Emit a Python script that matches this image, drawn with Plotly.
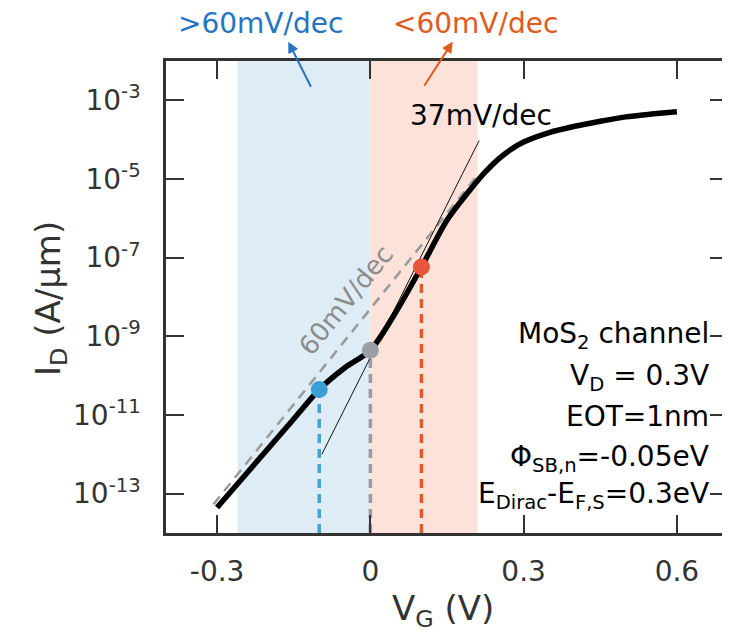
import plotly.graph_objects as go

# ---- data ----
vg = [-0.3, -0.25, -0.2, -0.15, -0.1, -0.05, 0.0, 0.05, 0.1, 0.15, 0.2, 0.225, 0.25, 0.275, 0.3, 0.35, 0.4, 0.45, 0.5, 0.55, 0.6]
log_id = [-13.35, -12.6, -11.85, -11.1, -10.35, -9.8, -9.355, -8.38, -7.24, -6.05, -5.2, -4.82, -4.5, -4.25, -4.06, -3.82, -3.66, -3.53, -3.42, -3.35, -3.29]
id_vals = [10 ** v for v in log_id]

ref60_x = [-0.307, 0.207]
ref60_y = [10 ** -13.27, 10 ** -4.95]

tan37_x = [-0.095, 0.213]
tan37_y = [10 ** -12.0, 10 ** -4.02]

dot_x = [-0.1, 0.0, 0.1]
dot_y = [10 ** -10.35, 10 ** -9.355, 10 ** -7.24]
dot_colors = ["#3a9fd2", "#9a9fa4", "#e8553a"]
vline_colors = ["#3fa3d4", "#9b9b9b", "#e35a22"]

blue_band = [-0.26, 0.0]
red_band = [0.0, 0.21]

x_ticks = [-0.3, 0, 0.3, 0.6]
x_ticktext = ["-0.3", "0", "0.3", "0.6"]
y_ticks = [1e-13, 1e-11, 1e-9, 1e-7, 1e-5, 1e-3]
y_ticktext = ["10<sup>-13</sup>", "10<sup>-11</sup>", "10<sup>-9</sup>", "10<sup>-7</sup>", "10<sup>-5</sup>", "10<sup>-3</sup>"]
y_floor = 1e-14

FONT = "DejaVu Sans, Verdana, sans-serif"
OFF = 8  # default page body margin
W, H = 730 - OFF, 638 - OFF
L, R, T, B = 166 - OFF, 2, 61 - OFF, 105
PW, PH = W - L - R, H - T - B


def px(xp):
    return (xp - OFF - L) / PW


def py(yp):
    return (H - B - (yp - OFF)) / PH


fig = go.Figure()

# shaded bands
fig.add_vrect(x0=blue_band[0], x1=blue_band[1], fillcolor="#deedf5", line_width=0, layer="below")
fig.add_vrect(x0=red_band[0], x1=red_band[1], fillcolor="#fde2da", line_width=0, layer="below")

# vertical dashed drop lines
for xv, yv, c in zip(dot_x, dot_y, vline_colors):
    fig.add_trace(go.Scatter(x=[xv, xv], y=[y_floor, yv], mode="lines",
                             line=dict(color=c, width=3.5, dash="9px,6px"),
                             showlegend=False, hoverinfo="skip"))

# 60 mV/dec reference
fig.add_trace(go.Scatter(x=ref60_x, y=ref60_y, mode="lines",
                         line=dict(color="#9a9a9a", width=2.5, dash="10px,7px"),
                         showlegend=False, hoverinfo="skip"))

# 37 mV/dec tangent
fig.add_trace(go.Scatter(x=tan37_x, y=tan37_y, mode="lines",
                         line=dict(color="#111111", width=1),
                         showlegend=False, hoverinfo="skip"))

# main curve
fig.add_trace(go.Scatter(x=vg, y=id_vals, mode="lines",
                         line=dict(color="#000000", width=5.5, shape="spline", smoothing=0.8),
                         showlegend=False))

# dots
fig.add_trace(go.Scatter(x=dot_x, y=dot_y, mode="markers",
                         marker=dict(color=dot_colors, size=17, line=dict(width=0)),
                         showlegend=False))

ann = []


def text(t, xp, yp, size, color, **kw):
    d = dict(text=t, x=px(xp), y=py(yp), xref="paper", yref="paper",
             xanchor=kw.pop("xanchor", "center"), yanchor=kw.pop("yanchor", "middle"),
             showarrow=False, font=dict(size=size, color=color, family=FONT))
    d.update(kw)
    ann.append(d)


# top labels
text("&gt;60mV/dec", 260, 23, 28, "#2673bf")
text("&lt;60mV/dec", 475, 23, 28, "#e05a1e")
# arrows
ann.append(dict(text="", x=px(288.3), y=py(41.7), xref="paper", yref="paper",
                ax=23.4, ay=46.6, showarrow=True, arrowhead=2, arrowsize=1.1, arrowwidth=2,
                arrowcolor="#2673bf"))
ann.append(dict(text="", x=px(452.7), y=py(41.7), xref="paper", yref="paper",
                ax=-29.4, ay=45.6, showarrow=True, arrowhead=2, arrowsize=1.1, arrowwidth=2,
                arrowcolor="#e05a1e"))
# 37 mV/dec
text("37mV/dec", 481, 115, 28, "#000000")
# 60 mV/dec rotated
text("60mV/dec", 346, 300, 26, "#8c8c8c", textangle=-51)
# parameter box
params = [
    ("MoS<sub>2</sub> channel", 335),
    ("V<sub>D</sub> = 0.3V", 377),
    ("EOT=1nm", 416),
    ("Φ<sub>SB,n</sub>=-0.05eV", 458),
    ("E<sub>Dirac</sub>-E<sub>F,S</sub>=0.3eV", 495),
]
for txt, yp in params:
    text(txt, 711, yp, 28, "#000000", xanchor="right")

# axis titles
text("V<sub>G</sub> (V)", 443, 610, 34, "#333333")
text("I<sub>D</sub> (A/μm)", 50, 299, 34, "#333333", textangle=-90)

fig.update_layout(
    width=W, height=H,
    margin=dict(l=L, r=R, t=T, b=B, autoexpand=False),
    plot_bgcolor="white", paper_bgcolor="white",
    font=dict(family=FONT, color="#333333"),
    annotations=ann,
    showlegend=False,
)

fig.update_xaxes(range=[-0.4, 0.7], tickvals=x_ticks, ticktext=x_ticktext,
                 ticks="inside", ticklen=18, tickwidth=2, tickcolor="#333333",
                 showline=True, linewidth=2.5, linecolor="#333333", mirror="ticks",
                 showgrid=False, zeroline=False, automargin=False,
                 tickfont=dict(size=28, color="#333333", family=FONT), ticklabelstandoff=12)

fig.update_yaxes(type="log", range=[-14, -2], tickvals=y_ticks, ticktext=y_ticktext,
                 ticks="inside", ticklen=18, tickwidth=2, tickcolor="#333333",
                 showline=True, linewidth=2.5, linecolor="#333333", mirror="ticks",
                 showgrid=False, zeroline=False, automargin=False,
                 tickfont=dict(size=28, color="#333333", family=FONT), ticklabelstandoff=17)

fig.write_html("out.html")
